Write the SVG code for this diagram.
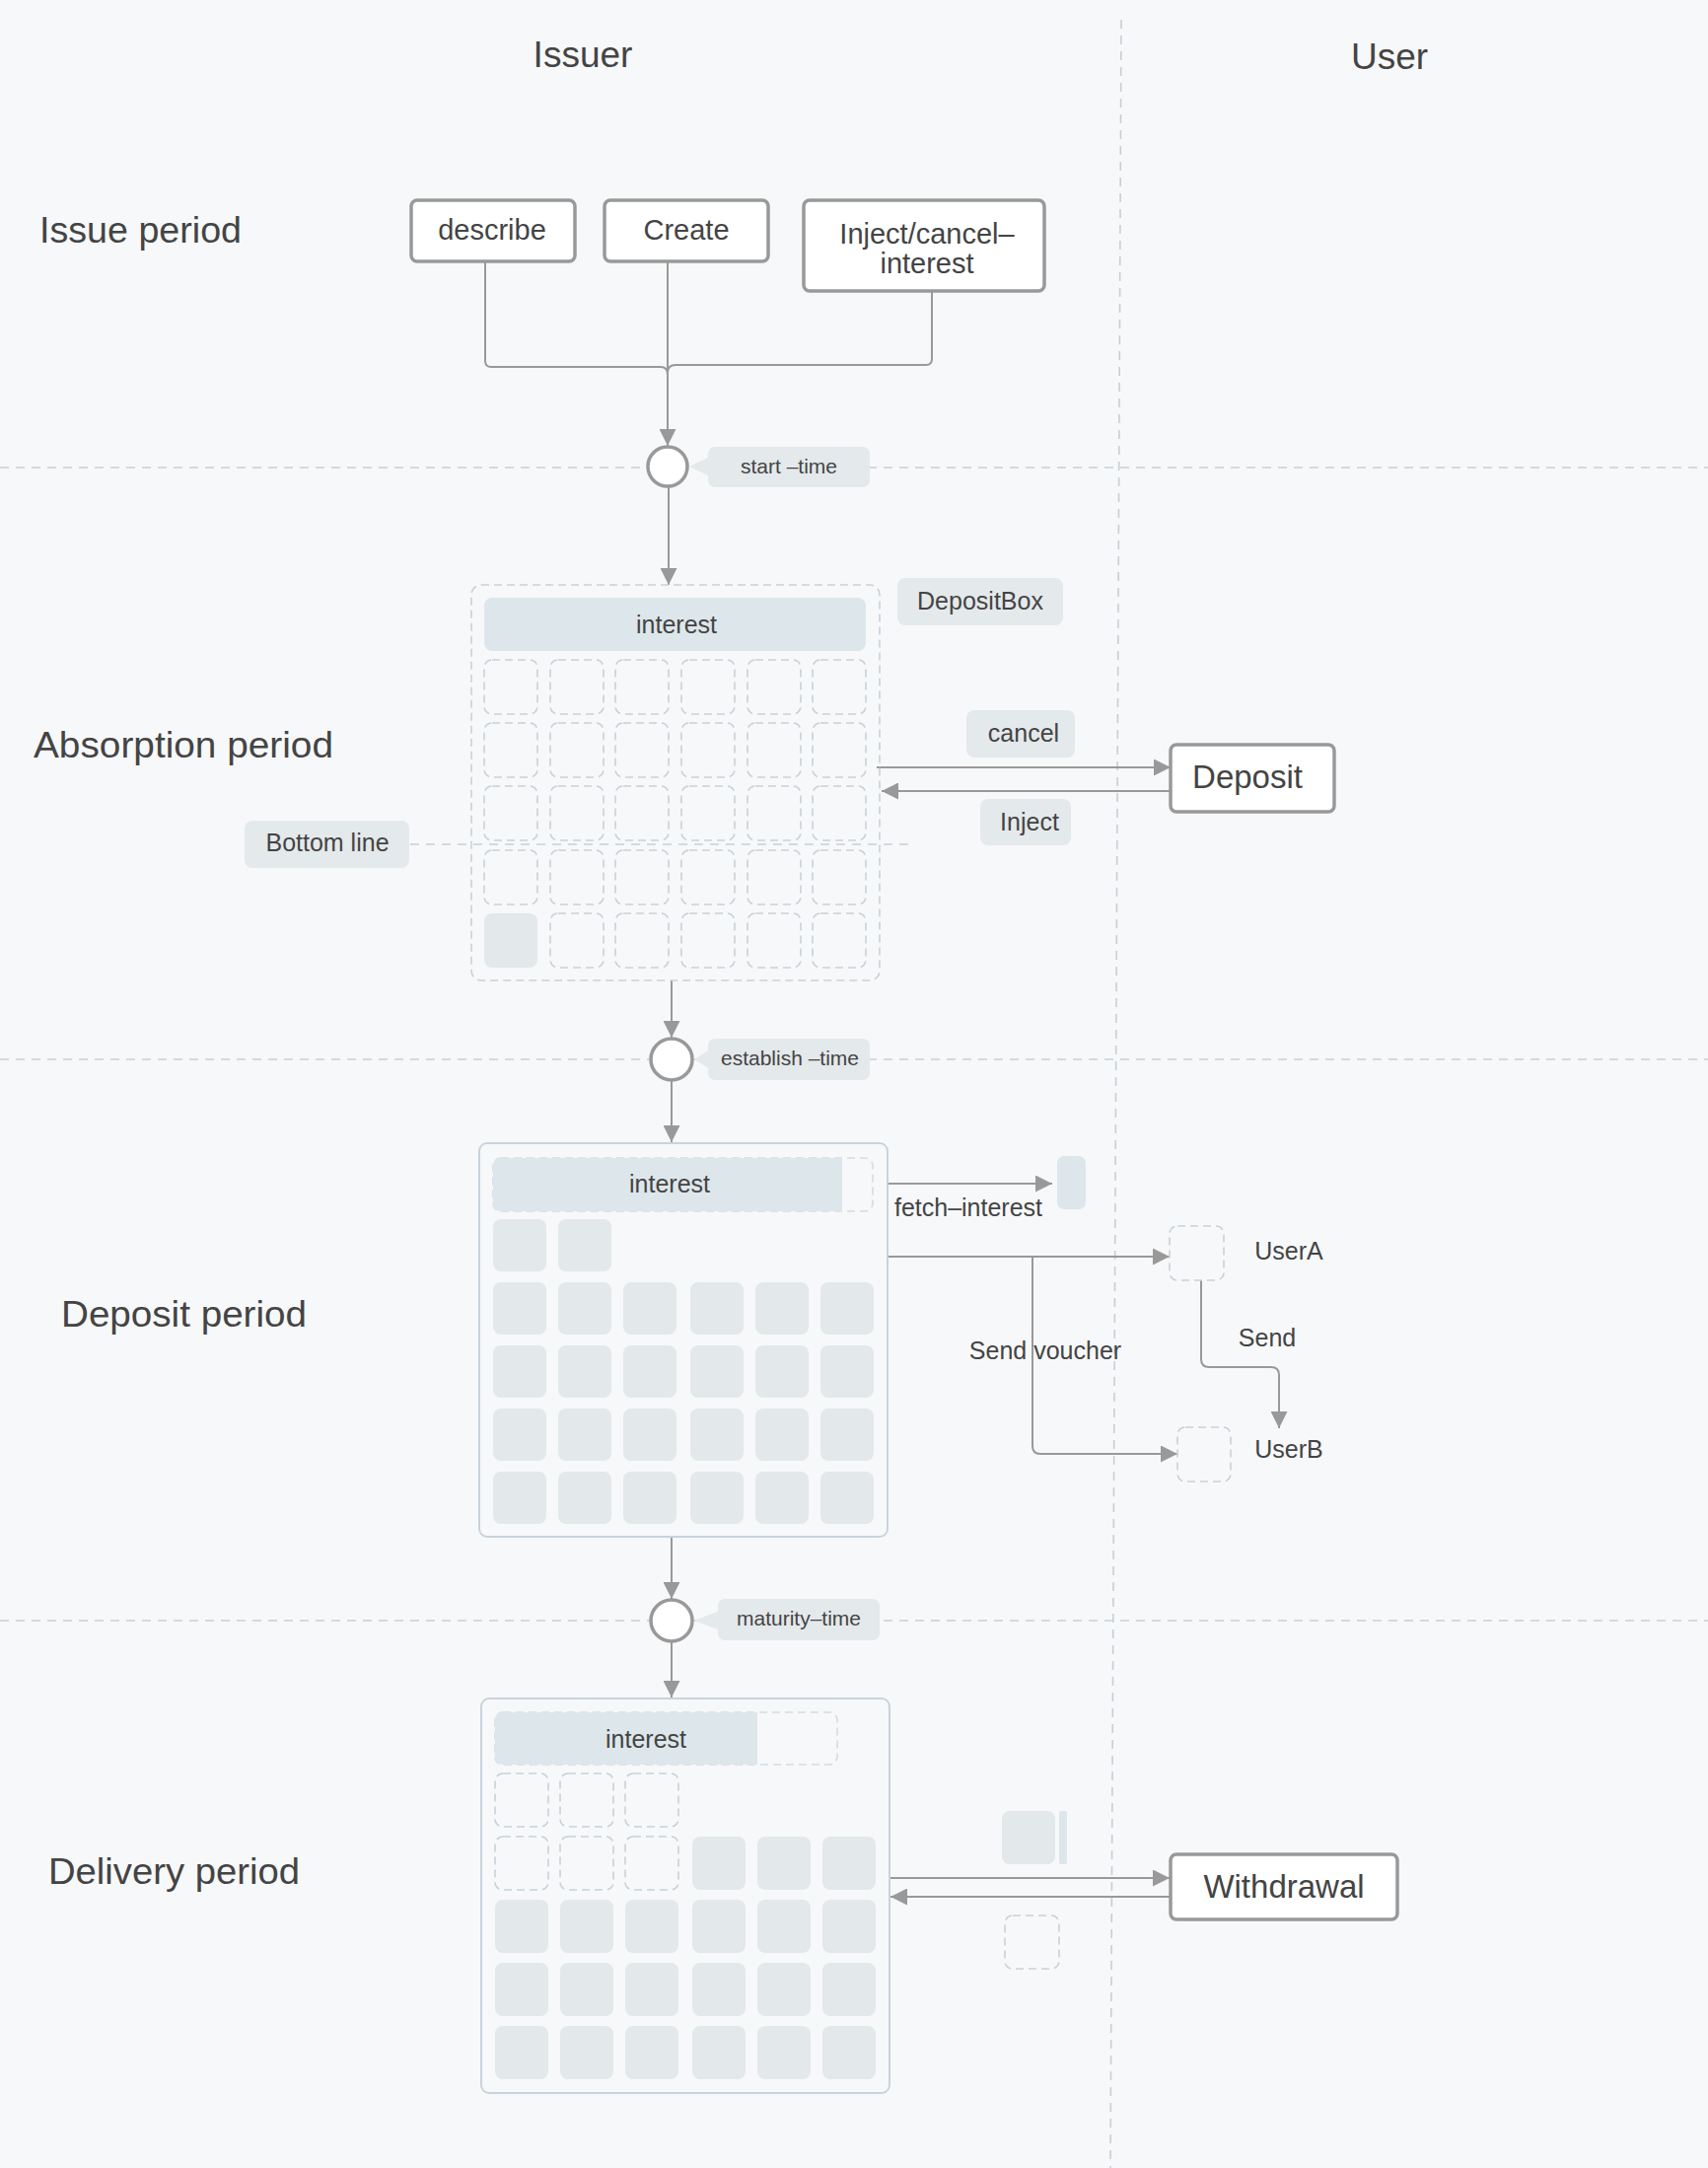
<svg xmlns="http://www.w3.org/2000/svg" width="1732" height="2198" viewBox="0 0 1732 2198">
<defs>
<style>
text{font-family:"Liberation Sans",Arial,"Noto Sans",sans-serif;fill:#444}
.title{font-size:37px}
.period{font-size:37px}
.btxt{font-size:29px;text-anchor:middle}
.bigtxt{font-size:33px;text-anchor:middle}
.ltxt{font-size:25px;text-anchor:middle}
.stxt{font-size:21px;text-anchor:middle}
.node{fill:#fff;stroke:#999;stroke-width:3.5}
.lbl{fill:#e4e9eb}
.sep{stroke:#c6cfd7;stroke-width:1.6;stroke-dasharray:9 7;fill:none}
.conn{stroke:#999;stroke-width:2;fill:none}
.dcell{fill:none;stroke:#c9d1d8;stroke-width:1.6;stroke-dasharray:8 5}
.fcell{fill:#e3e8ea}
.bar{fill:#dde7eb}
.cont{fill:#f7f8fa;stroke:#c9d3dc;stroke-width:2}
.circ{fill:#fff;stroke:#999;stroke-width:3.5}
</style>
<marker id="ah" markerUnits="userSpaceOnUse" markerWidth="17" markerHeight="17" refX="17" refY="8.5" orient="auto">
<path d="M0,0 L17,8.5 L0,17 Z" fill="#999"/>
</marker>
</defs>
<rect x="0" y="0" width="1732" height="2198" fill="#f7f8fa"/>

<g id="separators">
<line class="sep" x1="1137" y1="20" x2="1126" y2="2198"/>
<line class="sep" x1="0" y1="474" x2="1732" y2="474"/>
<line class="sep" x1="0" y1="1074" x2="1732" y2="1074"/>
<line class="sep" x1="0" y1="1643" x2="1732" y2="1643"/>
</g>

<g id="headers">
<text class="title" x="591" y="68" text-anchor="middle">Issuer</text>
<text class="title" x="1409" y="70" text-anchor="middle">User</text>
<text class="period" x="40" y="246" textLength="205" lengthAdjust="spacingAndGlyphs">Issue period</text>
<text class="period" x="34" y="768" textLength="304" lengthAdjust="spacingAndGlyphs">Absorption period</text>
<text class="period" x="62" y="1345" textLength="249" lengthAdjust="spacingAndGlyphs">Deposit period</text>
<text class="period" x="49" y="1910" textLength="255" lengthAdjust="spacingAndGlyphs">Delivery period</text>
</g>

<g id="connectors">
<path class="conn" d="M492,265 V366 Q492,372 498,372 H670 Q677,372 677,380"/>
<path class="conn" d="M945,295 V364 Q945,370 939,370 H685 Q677,370 677,378"/>
<path class="conn" d="M677,261 V452" marker-end="url(#ah)"/>
<path class="conn" d="M678,494 V593" marker-end="url(#ah)"/>
<path class="conn" d="M889,778 H1187" marker-end="url(#ah)"/>
<path class="conn" d="M1187,802 H894" marker-end="url(#ah)"/>
<path class="conn" d="M681,994 V1052" marker-end="url(#ah)"/>
<path class="conn" d="M681,1096 V1158" marker-end="url(#ah)"/>
<path class="conn" d="M872,1200 H1067" marker-end="url(#ah)"/>
<path class="conn" d="M900,1274 H1186" marker-end="url(#ah)"/>
<path class="conn" d="M1047,1274 V1466 Q1047,1474 1055,1474 H1194" marker-end="url(#ah)"/>
<path class="conn" d="M1218,1298 V1378 Q1218,1386 1226,1386 H1289 Q1297,1386 1297,1394 V1448" marker-end="url(#ah)"/>
<path class="conn" d="M681,1558 V1621" marker-end="url(#ah)"/>
<path class="conn" d="M681,1665 V1721" marker-end="url(#ah)"/>
<path class="conn" d="M902,1904 H1186" marker-end="url(#ah)"/>
<path class="conn" d="M1187,1923 H903" marker-end="url(#ah)"/>
</g>

<g id="node-describe">
<rect class="node" x="417" y="203" width="166" height="62" rx="6"/>
<text class="btxt" x="499" y="243">describe</text>
</g>
<g id="node-create">
<rect class="node" x="613" y="203" width="166" height="62" rx="6"/>
<text class="btxt" x="696" y="243">Create</text>
</g>
<g id="node-inject-cancel">
<rect class="node" x="815" y="203" width="244" height="92" rx="6"/>
<text class="btxt" x="940" y="247">Inject/cancel–</text>
<text class="btxt" x="940" y="277">interest</text>
</g>

<g id="node-start-time">
<circle class="circ" cx="677" cy="473" r="20"/>
<path class="lbl" d="M699,473 L720,463 L720,483 Z"/>
<rect class="lbl" x="718" y="453" width="164" height="41" rx="7"/>
<text class="stxt" x="800" y="480">start –time</text>
</g>

<g id="node-depositbox">
<rect x="478" y="593" width="414" height="401" rx="10" fill="none" stroke="#c9d1d8" stroke-width="1.6" stroke-dasharray="8 5"/>
<rect class="bar" x="491" y="606" width="387" height="54" rx="8"/>
<text class="ltxt" x="686" y="642">interest</text>
<g>
<rect class="dcell" x="491" y="669" width="54" height="55" rx="8"/><rect class="dcell" x="558" y="669" width="54" height="55" rx="8"/><rect class="dcell" x="624" y="669" width="54" height="55" rx="8"/><rect class="dcell" x="691" y="669" width="54" height="55" rx="8"/><rect class="dcell" x="758" y="669" width="54" height="55" rx="8"/><rect class="dcell" x="824" y="669" width="54" height="55" rx="8"/>
<rect class="dcell" x="491" y="733" width="54" height="55" rx="8"/><rect class="dcell" x="558" y="733" width="54" height="55" rx="8"/><rect class="dcell" x="624" y="733" width="54" height="55" rx="8"/><rect class="dcell" x="691" y="733" width="54" height="55" rx="8"/><rect class="dcell" x="758" y="733" width="54" height="55" rx="8"/><rect class="dcell" x="824" y="733" width="54" height="55" rx="8"/>
<rect class="dcell" x="491" y="797" width="54" height="55" rx="8"/><rect class="dcell" x="558" y="797" width="54" height="55" rx="8"/><rect class="dcell" x="624" y="797" width="54" height="55" rx="8"/><rect class="dcell" x="691" y="797" width="54" height="55" rx="8"/><rect class="dcell" x="758" y="797" width="54" height="55" rx="8"/><rect class="dcell" x="824" y="797" width="54" height="55" rx="8"/>
<rect class="dcell" x="491" y="862" width="54" height="55" rx="8"/><rect class="dcell" x="558" y="862" width="54" height="55" rx="8"/><rect class="dcell" x="624" y="862" width="54" height="55" rx="8"/><rect class="dcell" x="691" y="862" width="54" height="55" rx="8"/><rect class="dcell" x="758" y="862" width="54" height="55" rx="8"/><rect class="dcell" x="824" y="862" width="54" height="55" rx="8"/>
<rect class="fcell" x="491" y="926" width="54" height="55" rx="8"/><rect class="dcell" x="558" y="926" width="54" height="55" rx="8"/><rect class="dcell" x="624" y="926" width="54" height="55" rx="8"/><rect class="dcell" x="691" y="926" width="54" height="55" rx="8"/><rect class="dcell" x="758" y="926" width="54" height="55" rx="8"/><rect class="dcell" x="824" y="926" width="54" height="55" rx="8"/>
</g>
<rect class="lbl" x="910" y="586" width="168" height="48" rx="8"/>
<text class="ltxt" x="994" y="618">DepositBox</text>
</g>

<g id="node-bottom-line">
<line class="sep" x1="416" y1="856" x2="921" y2="856"/>
<rect class="lbl" x="248" y="832" width="167" height="48" rx="8"/>
<text class="ltxt" x="332" y="863">Bottom line</text>
</g>

<g id="node-cancel-label">
<rect class="lbl" x="980" y="720" width="110" height="48" rx="8"/>
<text class="ltxt" x="1038" y="752">cancel</text>
</g>
<g id="node-inject-label">
<rect class="lbl" x="994" y="810" width="92" height="47" rx="8"/>
<text class="ltxt" x="1044" y="842">Inject</text>
</g>
<g id="node-deposit">
<rect class="node" x="1187" y="755" width="166" height="68" rx="6"/>
<text class="bigtxt" x="1265" y="799">Deposit</text>
</g>

<g id="node-establish-time">
<circle class="circ" cx="681" cy="1074" r="21"/>
<path class="lbl" d="M704,1074 L720,1064 L720,1084 Z"/>
<rect class="lbl" x="718" y="1053" width="164" height="42" rx="7"/>
<text class="stxt" x="801" y="1080">establish –time</text>
</g>

<g id="node-deposit-container">
<rect class="cont" x="486" y="1159" width="414" height="399" rx="8"/>
<rect x="500" y="1174" width="385" height="54" rx="8" fill="none" stroke="#d3dce2" stroke-width="1.6" stroke-dasharray="8 5"/>
<path class="bar" d="M508,1174 H854 V1228 H508 Q500,1228 500,1220 V1182 Q500,1174 508,1174 Z"/>
<text class="ltxt" x="679" y="1209">interest</text>
<g>
<rect class="fcell" x="500" y="1236" width="54" height="53" rx="8"/><rect class="fcell" x="566" y="1236" width="54" height="53" rx="8"/>
<rect class="fcell" x="500" y="1300" width="54" height="53" rx="8"/><rect class="fcell" x="566" y="1300" width="54" height="53" rx="8"/><rect class="fcell" x="632" y="1300" width="54" height="53" rx="8"/><rect class="fcell" x="700" y="1300" width="54" height="53" rx="8"/><rect class="fcell" x="766" y="1300" width="54" height="53" rx="8"/><rect class="fcell" x="832" y="1300" width="54" height="53" rx="8"/>
<rect class="fcell" x="500" y="1364" width="54" height="53" rx="8"/><rect class="fcell" x="566" y="1364" width="54" height="53" rx="8"/><rect class="fcell" x="632" y="1364" width="54" height="53" rx="8"/><rect class="fcell" x="700" y="1364" width="54" height="53" rx="8"/><rect class="fcell" x="766" y="1364" width="54" height="53" rx="8"/><rect class="fcell" x="832" y="1364" width="54" height="53" rx="8"/>
<rect class="fcell" x="500" y="1428" width="54" height="53" rx="8"/><rect class="fcell" x="566" y="1428" width="54" height="53" rx="8"/><rect class="fcell" x="632" y="1428" width="54" height="53" rx="8"/><rect class="fcell" x="700" y="1428" width="54" height="53" rx="8"/><rect class="fcell" x="766" y="1428" width="54" height="53" rx="8"/><rect class="fcell" x="832" y="1428" width="54" height="53" rx="8"/>
<rect class="fcell" x="500" y="1492" width="54" height="53" rx="8"/><rect class="fcell" x="566" y="1492" width="54" height="53" rx="8"/><rect class="fcell" x="632" y="1492" width="54" height="53" rx="8"/><rect class="fcell" x="700" y="1492" width="54" height="53" rx="8"/><rect class="fcell" x="766" y="1492" width="54" height="53" rx="8"/><rect class="fcell" x="832" y="1492" width="54" height="53" rx="8"/>
</g>
</g>

<g id="node-fetch-target">
<rect class="bar" x="1072" y="1172" width="29" height="54" rx="7"/>
<text class="ltxt" x="982" y="1233">fetch–interest</text>
</g>
<g id="node-usera">
<rect class="dcell" x="1186" y="1243" width="55" height="55" rx="8"/>
<text class="ltxt" x="1307" y="1277">UserA</text>
</g>
<g id="node-userb">
<rect class="dcell" x="1194" y="1447" width="54" height="55" rx="8"/>
<text class="ltxt" x="1307" y="1478">UserB</text>
</g>
<g id="labels-deposit">
<text class="ltxt" x="1060" y="1378">Send voucher</text>
<text class="ltxt" x="1285" y="1365">Send</text>
</g>

<g id="node-maturity-time">
<circle class="circ" cx="681" cy="1643" r="21"/>
<path class="lbl" d="M704,1643 L730,1633 L730,1653 Z"/>
<rect class="lbl" x="728" y="1621" width="164" height="42" rx="7"/>
<text class="stxt" x="810" y="1648">maturity–time</text>
</g>

<g id="node-delivery-container">
<rect class="cont" x="488" y="1722" width="414" height="400" rx="8"/>
<rect x="502" y="1736" width="347" height="53" rx="8" fill="none" stroke="#d3dce2" stroke-width="1.6" stroke-dasharray="8 5"/>
<path class="bar" d="M510,1736 H768 V1789 H510 Q502,1789 502,1781 V1744 Q502,1736 510,1736 Z"/>
<text class="ltxt" x="655" y="1772">interest</text>
<g>
<rect class="dcell" x="502" y="1798" width="54" height="54" rx="8"/><rect class="dcell" x="568" y="1798" width="54" height="54" rx="8"/><rect class="dcell" x="634" y="1798" width="54" height="54" rx="8"/>
<rect class="dcell" x="502" y="1862" width="54" height="54" rx="8"/><rect class="dcell" x="568" y="1862" width="54" height="54" rx="8"/><rect class="dcell" x="634" y="1862" width="54" height="54" rx="8"/><rect class="fcell" x="702" y="1862" width="54" height="54" rx="8"/><rect class="fcell" x="768" y="1862" width="54" height="54" rx="8"/><rect class="fcell" x="834" y="1862" width="54" height="54" rx="8"/>
<rect class="fcell" x="502" y="1926" width="54" height="54" rx="8"/><rect class="fcell" x="568" y="1926" width="54" height="54" rx="8"/><rect class="fcell" x="634" y="1926" width="54" height="54" rx="8"/><rect class="fcell" x="702" y="1926" width="54" height="54" rx="8"/><rect class="fcell" x="768" y="1926" width="54" height="54" rx="8"/><rect class="fcell" x="834" y="1926" width="54" height="54" rx="8"/>
<rect class="fcell" x="502" y="1990" width="54" height="54" rx="8"/><rect class="fcell" x="568" y="1990" width="54" height="54" rx="8"/><rect class="fcell" x="634" y="1990" width="54" height="54" rx="8"/><rect class="fcell" x="702" y="1990" width="54" height="54" rx="8"/><rect class="fcell" x="768" y="1990" width="54" height="54" rx="8"/><rect class="fcell" x="834" y="1990" width="54" height="54" rx="8"/>
<rect class="fcell" x="502" y="2054" width="54" height="54" rx="8"/><rect class="fcell" x="568" y="2054" width="54" height="54" rx="8"/><rect class="fcell" x="634" y="2054" width="54" height="54" rx="8"/><rect class="fcell" x="702" y="2054" width="54" height="54" rx="8"/><rect class="fcell" x="768" y="2054" width="54" height="54" rx="8"/><rect class="fcell" x="834" y="2054" width="54" height="54" rx="8"/>
</g>
</g>

<g id="node-withdraw-items">
<rect class="fcell" x="1016" y="1836" width="54" height="54" rx="8"/>
<rect class="bar" x="1074" y="1836" width="8" height="54" rx="2"/>
<rect class="dcell" x="1019" y="1942" width="55" height="54" rx="8"/>
</g>
<g id="node-withdrawal">
<rect class="node" x="1187" y="1880" width="230" height="66" rx="6"/>
<text class="bigtxt" x="1302" y="1924">Withdrawal</text>
</g>
</svg>
